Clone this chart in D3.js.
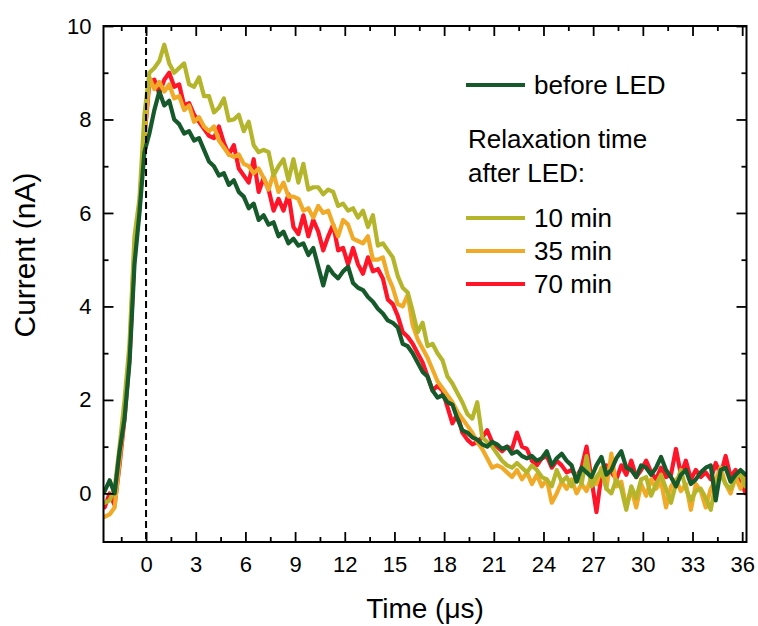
<!DOCTYPE html>
<html>
<head>
<meta charset="utf-8">
<script src="https://cdn.jsdelivr.net/npm/d3@7"></script>
<style>
  body { margin: 0; background: #fff; }
  text { font-family: "Liberation Sans", Arial, sans-serif; fill: #000; }
</style>
</head>
<body>
<svg id="chart" width="758" height="626"></svg>
<script>
// sampling grid of the transients (µs)
const timeStart = -2.5;
const timeStep = 0.3;

// photocurrent (nA)
const beforeLED = [
  0.05, 0.28, 0.0, 0.9, 1.6, 2.8, 4.9, 6.0, 7.3, 7.7,
  8.2, 8.6, 8.3, 8.4, 8.0, 7.9, 7.7, 7.75, 7.55, 7.6,
  7.35, 7.1, 7.0, 6.8, 6.85, 6.6, 6.7, 6.45, 6.35, 6.1,
  6.2, 5.85, 5.95, 5.75, 5.8, 5.5, 5.6, 5.35, 5.45, 5.3,
  5.35, 5.1, 5.25, 4.85, 4.45, 4.85, 4.7, 4.6, 4.75, 4.85,
  4.5, 4.4, 4.35, 4.2, 4.1, 3.95, 3.85, 3.7, 3.65, 3.55,
  3.2, 3.15, 3.0, 2.8, 2.6, 2.5, 2.2, 2.05, 2.1, 1.95,
  1.9, 1.6, 1.35, 1.3, 1.2, 1.15, 1.05, 1.0, 1.1, 1.05,
  0.95, 1.0, 0.85, 0.9, 0.8, 0.75, 0.8, 0.7, 0.75, 0.9,
  0.6, 0.75, 0.85, 0.7, 0.6, 0.25, 0.55, 0.45, 0.35, 0.6,
  0.78, 0.4, 0.5, 0.75, 0.9, 0.55, 0.5, 0.35, 0.6, 0.55,
  0.4, 0.55, 0.78, 0.5, 0.35, 0.15, 0.4, 0.5, 0.2, 0.3,
  0.45, 0.55, 0.6, -0.15, 0.5, 0.55, 0.25, 0.4, 0.5, 0.4,
  0.45
];
const relax10 = [
  -0.2, -0.15, 0.1, 1.0, 2.0, 3.2, 5.5, 6.3, 8.1, 9.0,
  9.1, 9.25, 9.6, 9.2, 9.0, 9.1, 9.2, 8.75, 8.7, 8.9,
  8.5, 8.5, 8.15, 8.25, 8.45, 7.98, 8.0, 8.1, 7.75, 7.95,
  7.45, 7.3, 7.35, 7.3, 6.8, 7.0, 7.15, 6.7, 7.15, 6.65,
  7.05, 6.5, 6.55, 6.55, 6.4, 6.5, 6.45, 6.15, 6.2, 6.05,
  6.1, 5.9, 6.05, 5.7, 5.95, 5.3, 5.35, 5.2, 5.05, 4.65,
  4.4, 4.3, 3.9, 3.45, 3.65, 3.15, 3.2, 3.0, 2.85, 2.5,
  2.35, 2.15, 1.95, 1.7, 1.6, 1.95, 1.2, 1.1, 1.0, 0.85,
  0.7, 0.6, 0.55, 0.65, 0.55, 0.45, 0.6, 0.5, 0.35, 0.3,
  0.15, 0.5, 0.25, 0.35, 0.15, 0.4, 0.2, 0.8, 0.15, 0.35,
  0.5, 0.1, 0.0, 0.3, 0.1, -0.35, 0.15, -0.1, 0.3, 0.35,
  -0.05, 0.2, 0.4, 0.1, -0.2, 0.2, 0.5, 0.1, -0.15, 0.05,
  0.1, -0.1, -0.35, 0.2, 0.4, 0.2, 0.1, 0.35, 0.4, 0.15,
  0.2
];
const relax35 = [
  -0.5, -0.45, -0.3, 0.7, 1.7, 3.0, 5.3, 6.2, 7.6, 8.9,
  8.65, 8.8, 8.6, 8.75, 8.45, 8.5, 8.2, 8.3, 7.95, 8.05,
  7.85, 7.75, 7.85, 7.55, 7.4, 7.25, 7.2, 7.25, 7.05, 7.0,
  6.85, 6.95, 6.75, 6.5, 6.85, 6.45, 6.65, 6.35, 6.35, 6.3,
  6.05, 6.1, 5.9, 6.15, 6.0, 6.05, 5.75, 5.5, 5.85, 5.75,
  5.45, 5.4, 5.35, 5.5, 5.0, 5.0, 5.05, 4.65, 4.4, 4.05,
  4.0, 4.25, 3.6, 3.3, 3.1, 2.9, 2.65, 2.4, 2.25, 2.1,
  1.95, 1.75, 1.6, 1.45, 1.3, 1.1, 0.95, 0.75, 0.55, 0.6,
  0.55, 0.45, 0.35, 0.5, 0.3, 0.45, 0.2, 0.4, 0.15, 0.3,
  -0.2, 0.0, 0.25, 0.1, 0.3, 0.0, 0.2, 0.05, 0.35, 0.2,
  0.55, 0.1, 0.85, 0.15, 0.25, -0.3, 0.1, -0.3, 0.2, -0.05,
  0.3, 0.1, 0.25, -0.3, 0.15, 0.3, 0.05, 0.2, -0.35, 0.2,
  0.05, -0.3, 0.1, 0.3, 0.55, 0.2, 0.0, 0.35, 0.1, 0.4,
  0.3
];
const relax70 = [
  -0.3, 0.0, -0.25, 0.6, 1.6, 2.9, 5.1, 6.1, 7.6, 8.8,
  8.85, 8.55, 8.85, 9.0, 8.7, 8.75, 8.3, 8.35, 8.1, 7.95,
  7.8, 7.65, 7.6, 7.85, 7.5, 7.25, 7.45, 6.95, 6.8, 6.65,
  7.15, 6.45, 6.75, 6.5, 6.05, 6.3, 6.05, 6.4, 5.7, 5.55,
  5.95, 5.5, 5.85, 5.6, 5.2, 5.5, 5.75, 5.2, 5.25, 4.9,
  5.25, 4.9, 4.7, 5.05, 4.75, 4.8, 4.6, 4.15, 4.05, 3.8,
  3.45, 3.35, 3.2, 3.0, 2.8, 2.5, 2.2, 2.3, 2.2, 1.85,
  1.5, 1.7, 1.3, 1.15, 1.05, 1.1, 1.2, 1.35, 1.1, 1.0,
  0.9, 1.0, 0.95, 1.3, 1.0, 0.95, 0.7, 0.6, 0.75, 0.8,
  0.55, 0.7, 0.6, 0.45, 0.5, 0.35, 0.55, 1.0, 0.3, -0.4,
  0.4, 0.6, 0.45, 0.3, 0.6, 0.4, 0.7, 0.35, 0.5, 0.7,
  0.45, 0.3, 0.55, 0.35, 0.4, 0.95, 0.4, 0.7, 0.3, 0.5,
  0.35, 0.45, 0.3, 0.65, 0.4, 0.8, 0.35, 0.5, 0.3, 0.0,
  0.1
];

const xTicks = [0, 3, 6, 9, 12, 15, 18, 21, 24, 27, 30, 33, 36];
const xMinorTicks = [-1.5, 1.5, 4.5, 7.5, 10.5, 13.5, 16.5, 19.5, 22.5, 25.5, 28.5, 31.5, 34.5];
const yTicks = [0, 2, 4, 6, 8, 10];
const yMinorTicks = [1, 3, 5, 7, 9];

// drawn back to front, the reference curve ends up on top
const series = [
  { label: "70 min", values: relax70, color: "#ff1428" },
  { label: "35 min", values: relax35, color: "#f0aa28" },
  { label: "10 min", values: relax10, color: "#b4b52b" },
  { label: "before LED", values: beforeLED, color: "#165a2b" }
];

const svg = d3.select("#chart");
const margin = { top: 26, right: 11.5, bottom: 84, left: 103.5 };
const width = 758 - margin.left - margin.right;
const height = 626 - margin.top - margin.bottom;

const x = d3.scaleLinear().domain([-2.57, 36.26]).range([0, width]);
const y = d3.scaleLinear().domain([-1.04, 10]).range([height, 0]);

const g = svg.append("g").attr("transform", `translate(${margin.left},${margin.top})`);

g.append("clipPath").attr("id", "plotClip")
  .append("rect").attr("width", width).attr("height", height);

// curves
const line = d3.line()
  .x((d, i) => x(timeStart + i * timeStep))
  .y(d => y(d));

const curves = g.append("g").attr("clip-path", "url(#plotClip)");
series.forEach(s => {
  curves.append("path")
    .datum(s.values)
    .attr("d", line)
    .attr("fill", "none")
    .attr("stroke", s.color)
    .attr("stroke-width", 4.2)
    .attr("stroke-linejoin", "round")
    .attr("stroke-linecap", "round");
});

// LED switch-off marker at t = 0
g.append("line")
  .attr("x1", x(0)).attr("x2", x(0))
  .attr("y1", 0).attr("y2", height)
  .attr("stroke", "#000")
  .attr("stroke-width", 2)
  .attr("stroke-dasharray", "7,4");

// axes with inward ticks on all four sides
function styleAxis(sel) {
  sel.select(".domain").remove();
  sel.selectAll(".tick line").attr("stroke", "#000").attr("stroke-width", 1.8);
  sel.selectAll(".tick text").attr("font-size", 22).attr("fill", "#000");
}

g.append("g").attr("transform", `translate(0,${height})`)
  .call(d3.axisBottom(x).tickValues(xTicks).tickSize(-10).tickPadding(14).tickFormat(d3.format("d")))
  .call(styleAxis);
g.append("g").attr("transform", `translate(0,${height})`)
  .call(d3.axisBottom(x).tickValues(xMinorTicks).tickSize(-5).tickFormat(""))
  .call(styleAxis);
g.append("g")
  .call(d3.axisTop(x).tickValues(xTicks).tickSize(-10).tickFormat(""))
  .call(styleAxis);
g.append("g")
  .call(d3.axisTop(x).tickValues(xMinorTicks).tickSize(-5).tickFormat(""))
  .call(styleAxis);

g.append("g")
  .call(d3.axisLeft(y).tickValues(yTicks).tickSize(-10).tickPadding(12).tickFormat(d3.format("d")))
  .call(styleAxis);
g.append("g")
  .call(d3.axisLeft(y).tickValues(yMinorTicks).tickSize(-5).tickFormat(""))
  .call(styleAxis);
g.append("g").attr("transform", `translate(${width},0)`)
  .call(d3.axisRight(y).tickValues(yTicks).tickSize(-10).tickFormat(""))
  .call(styleAxis);
g.append("g").attr("transform", `translate(${width},0)`)
  .call(d3.axisRight(y).tickValues(yMinorTicks).tickSize(-5).tickFormat(""))
  .call(styleAxis);

g.append("rect")
  .attr("width", width).attr("height", height)
  .attr("fill", "none").attr("stroke", "#000").attr("stroke-width", 2);

// axis titles
svg.append("text")
  .attr("x", 425).attr("y", 618)
  .attr("text-anchor", "middle")
  .attr("font-size", 28)
  .text("Time (μs)");

svg.append("text")
  .attr("transform", "translate(35,255) rotate(-90)")
  .attr("text-anchor", "middle")
  .attr("font-size", 30)
  .text("Current (nA)");

// legend
const legend = svg.append("g");
const legendRows = [
  { label: "before LED", color: series[3].color, y: 85 },
  { label: "10 min", color: series[2].color, y: 218 },
  { label: "35 min", color: series[1].color, y: 251 },
  { label: "70 min", color: series[0].color, y: 284 }
];
legendRows.forEach(r => {
  legend.append("line")
    .attr("x1", 466).attr("x2", 525)
    .attr("y1", r.y).attr("y2", r.y)
    .attr("stroke", r.color).attr("stroke-width", 4);
  legend.append("text")
    .attr("x", 534).attr("y", r.y + 9)
    .attr("font-size", 26)
    .text(r.label);
});
legend.append("text").attr("x", 468).attr("y", 148).attr("font-size", 26).text("Relaxation time");
legend.append("text").attr("x", 468).attr("y", 182).attr("font-size", 26).text("after LED:");
</script>
</body>
</html>
